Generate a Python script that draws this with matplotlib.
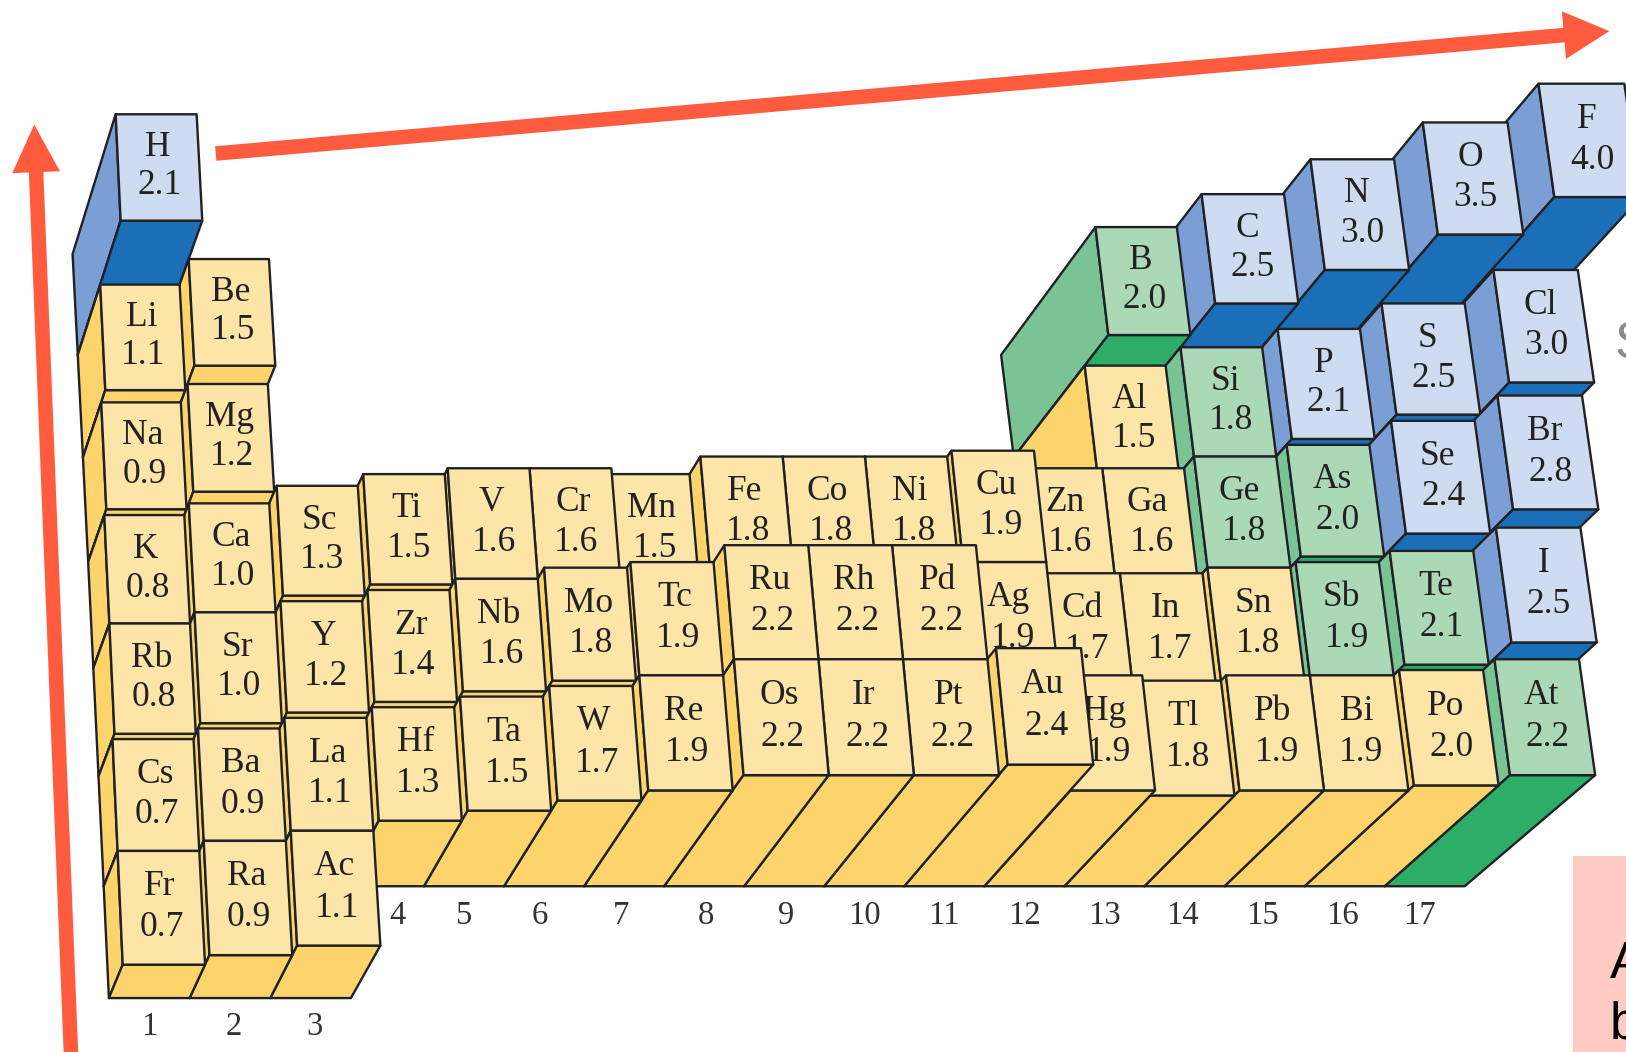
import matplotlib
matplotlib.use("Agg")
import matplotlib.pyplot as plt
from matplotlib.patches import Polygon, Rectangle
import numpy as np

symbols = ["H","Li","Be","B","C","N","O","F",
           "Na","Mg","Al","Si","P","S","Cl",
           "K","Ca","Sc","Ti","V","Cr","Mn","Fe","Co","Ni","Cu","Zn","Ga","Ge","As","Se","Br",
           "Rb","Sr","Y","Zr","Nb","Mo","Tc","Ru","Rh","Pd","Ag","Cd","In","Sn","Sb","Te","I",
           "Cs","Ba","La","Hf","Ta","W","Re","Os","Ir","Pt","Au","Hg","Tl","Pb","Bi","Po","At",
           "Fr","Ra","Ac"]
values = [2.1,1.1,1.5,2.0,2.5,3.0,3.5,4.0,
          0.9,1.2,1.5,1.8,2.1,2.5,3.0,
          0.8,1.0,1.3,1.5,1.6,1.6,1.5,1.8,1.8,1.8,1.9,1.6,1.6,1.8,2.0,2.4,2.8,
          0.8,1.0,1.2,1.4,1.6,1.8,1.9,2.2,2.2,2.2,1.9,1.7,1.7,1.8,1.9,2.1,2.5,
          0.7,0.9,1.1,1.3,1.5,1.7,1.9,2.2,2.2,2.2,2.4,1.9,1.8,1.9,1.9,2.0,2.2,
          0.7,0.9,1.1]
groups = [1,1,2,13,14,15,16,17,
          1,2,13,14,15,16,17,
          1,2,3,4,5,6,7,8,9,10,11,12,13,14,15,16,17,
          1,2,3,4,5,6,7,8,9,10,11,12,13,14,15,16,17,
          1,2,3,4,5,6,7,8,9,10,11,12,13,14,15,16,17,
          1,2,3]
periods = [1,2,2,2,2,2,2,2,
           3,3,3,3,3,3,3,
           4,4,4,4,4,4,4,4,4,4,4,4,4,4,4,4,4,
           5,5,5,5,5,5,5,5,5,5,5,5,5,5,5,5,5,
           6,6,6,6,6,6,6,6,6,6,6,6,6,6,6,6,6,
           7,7,7]
blue_elements = ["H","C","N","O","F","P","S","Cl","Se","Br","I"]
green_elements = ["B","Si","Ge","As","Sb","Te","At"]
group_labels = list(range(1, 18))

palette = {
    "yellow": ("#FDE5A8", "#FDD46C", "#FDD46C"),
    "green": ("#ABD9B8", "#79C394", "#2DAE68"),
    "blue": ("#CEDBF0", "#7B9FD4", "#1A6FB8"),
}
EDGE = "#202124"
ARROW = "#FF5C3F"
LABEL_NUDGE = {2: 4, 3: 4, 4: 13, 6: -4, 7: -3, 8: 2, 9: 2, 14: -2, 15: -2, 16: -2, 17: -5}

plt.rcParams["font.family"] = ["Liberation Serif", "DejaVu Serif"]
fig = plt.figure(figsize=(16.26, 10.52), dpi=100)
ax = fig.add_axes([0, 0, 1, 1])
ax.set_xlim(0, 1568)
ax.set_ylim(1014, 0)
ax.axis("off")


def project(u, r, h):
    """Oblique view of the block model: u along groups, r along periods, h towards the viewer."""
    y = 245 + 96.18 * r + 0.893 * r * r
    x = 70 + 5 * r + (73.6 + 0.6 * r) * u
    x = x + h * (16 + 0.029 * x + 0.25 * (7 - r)) + 2.2 * max(0.0, h - 2.5) ** 2
    y = y - h * (46 + (7 - r) * 2.6) - 3.75 * max(0.0, h - 2.0) ** 2
    return x, y


def quad(points, color, z):
    ax.add_patch(Polygon(points, closed=True, facecolor=color, edgecolor=EDGE,
                         linewidth=1.7, joinstyle="round", zorder=z))


order = sorted(range(len(symbols)), key=lambda i: (periods[i], -groups[i]))
for z, i in enumerate(order):
    s, v, g, p = symbols[i], values[i], groups[i], periods[i]
    kind = "blue" if s in blue_elements else "green" if s in green_elements else "yellow"
    face, left, bottom = palette[kind]
    u0, u1, r0, r1 = g - 1, g, p - 1, p
    z0 = 10 + z
    quad([project(u0, r0, v), project(u0, r1, v), project(u0, r1, 0), project(u0, r0, 0)], left, z0)
    quad([project(u0, r1, v), project(u1, r1, v), project(u1, r1, 0), project(u0, r1, 0)], bottom, z0)
    quad([project(u0, r0, v), project(u1, r0, v), project(u1, r1, v), project(u0, r1, v)], face, z0)
    um = (u0 + u1) / 2
    sx, sy = project(um, r0 + 0.315, v)
    vx, vy = project(um, r0 + 0.675, v)
    ax.text(sx, sy, s, ha="center", va="center", fontsize=25.5, color="#222222", zorder=z0)
    ax.text(vx, vy, f"{v:.1f}", ha="center", va="center", fontsize=25.5, color="#222222", zorder=z0)

for g in group_labels:
    r = 7 if g <= 3 else 6
    x0, y0 = project(g - 0.5, r, 0)
    ax.text(x0 + LABEL_NUDGE.get(g, 0), y0 + 28, str(g), ha="center", va="center",
            fontsize=23.5, color="#333333", zorder=200)


def arrow(start, tip, width, head_w, head_l):
    a, b = np.array(start, float), np.array(tip, float)
    d = (b - a) / np.linalg.norm(b - a)
    n = np.array([-d[1], d[0]])
    c = b - d * head_l
    pts = [a + n * width / 2, c + n * width / 2, c + n * head_w / 2, b,
           c - n * head_w / 2, c - n * width / 2, a - n * width / 2]
    ax.add_patch(Polygon(pts, closed=True, facecolor=ARROW, edgecolor="none", zorder=300))


arrow((208, 148), (1552, 30), 14, 46, 44)
arrow((69, 1030), (33, 120), 14, 46, 46)

ax.add_patch(Rectangle((1517, 825), 60, 200, facecolor="#FFCBC3", edgecolor="none", zorder=5))
sans = ["Liberation Sans", "DejaVu Sans"]
ax.text(1552, 930, "A", fontsize=37, family=sans, color="black", va="center", ha="left", zorder=6)
ax.text(1552, 988, "b", fontsize=37, family=sans, color="black", va="center", ha="left", zorder=6)
ax.text(1557, 333, "S", fontsize=37, family=sans, color="#8a8a8a", va="center", ha="left", zorder=6)

fig.savefig("out.png", dpi=100)
